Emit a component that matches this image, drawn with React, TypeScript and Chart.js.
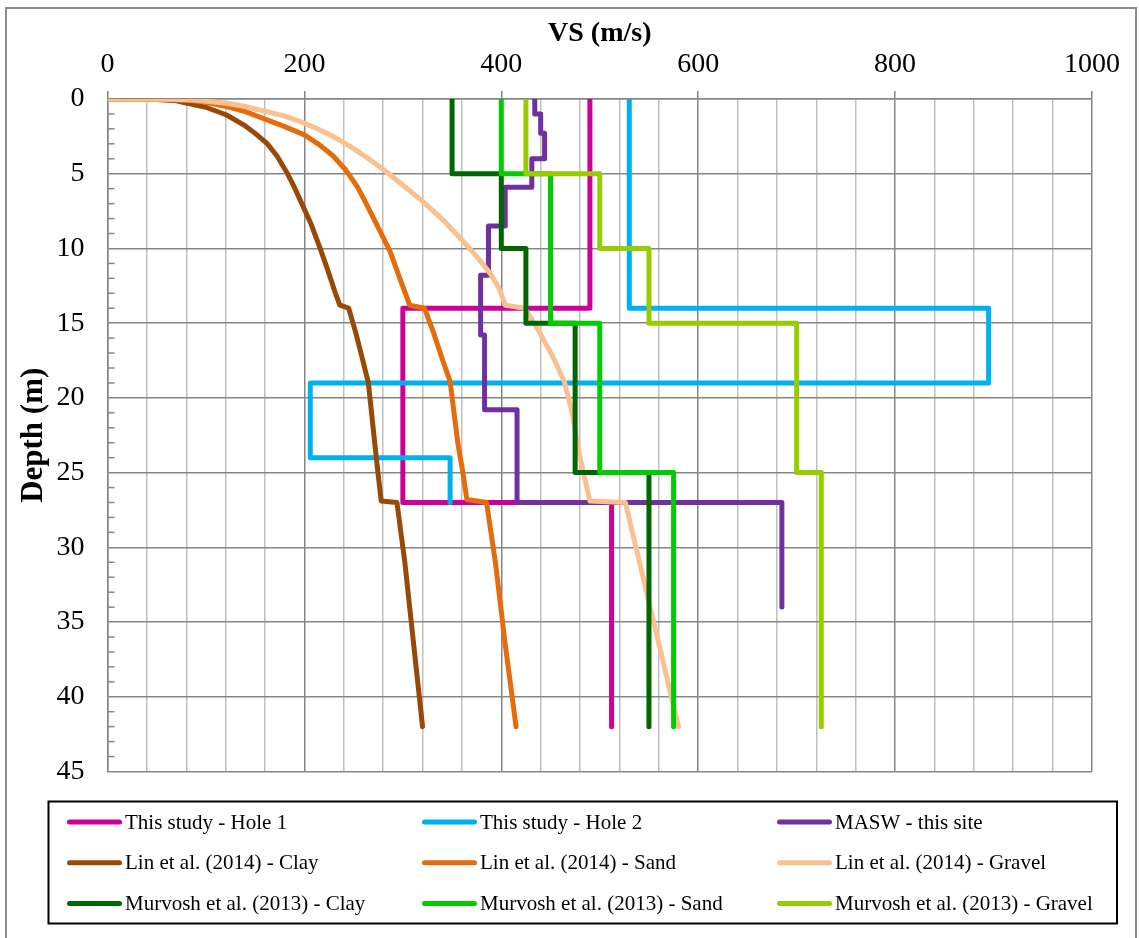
import { useEffect, useRef } from 'react';
import { Chart, registerables } from 'chart.js';

Chart.register(...registerables);

const FONT = '"Liberation Serif", "Times New Roman", serif';
const MAJOR = '#868686';
const MINOR = '#c0c0c0';

// Series labels
const seriesLabels = [
  'This study - Hole 1',
  'This study - Hole 2',
  'MASW - this site',
  'Lin et al. (2014) - Clay',
  'Lin et al. (2014) - Sand',
  'Lin et al. (2014) - Gravel',
  'Murvosh et al. (2013) - Clay',
  'Murvosh et al. (2013) - Sand',
  'Murvosh et al. (2013) - Gravel',
];
const seriesColors = ['#cc0099', '#00b0f0', '#7030a0', '#984807', '#e46c0a', '#fac090', '#006600', '#00cc00', '#99cc00'];

// This study - Hole 1
const hole1Vs = [490, 490, 300, 300, 512, 512];
const hole1Depth = [0, 14, 14, 27, 27, 42];

// This study - Hole 2
const hole2Vs = [530, 530, 895, 895, 206, 206, 348, 348];
const hole2Depth = [0, 14, 14, 19, 19, 24, 24, 27];

// MASW
const maswVs = [434, 434, 440, 440, 444, 444, 431, 431, 404, 404, 387, 387, 379, 379, 383, 383, 416, 416, 685, 685];
const maswDepth = [0, 1, 1, 2.3, 2.3, 4, 4, 5.9, 5.9, 8.5, 8.5, 11.8, 11.8, 15.8, 15.8, 20.8, 20.8, 27, 27, 34];

// Lin et al. (2014) - Clay
const linClayVs = [0, 30, 50, 70, 80, 100, 121, 140, 150, 162, 172, 182, 189, 196, 207, 216, 224, 231, 236, 245, 252, 259, 265, 269, 273, 278, 294, 302, 311, 320];
const linClayDepth = [0, 0.0, 0.03, 0.12, 0.27, 0.55, 1.07, 1.8, 2.3, 2.97, 3.8, 4.9, 5.8, 6.8, 8.4, 10, 11.5, 12.9, 13.8, 14, 15.6, 17.4, 19, 21.5, 24, 26.9, 27, 31, 36.5, 42];

// Lin et al. (2014) - Sand
const linSandVs = [0, 50, 80, 100, 121, 140, 162, 180, 200, 215, 229, 242, 254, 262, 272, 287, 298, 307, 322, 331, 340, 348, 352, 356, 361, 365, 385, 394, 404, 415];
const linSandDepth = [0, 0.01, 0.07, 0.22, 0.5, 0.85, 1.4, 1.85, 2.4, 3.05, 3.8, 4.75, 5.9, 6.9, 8.2, 10.2, 12.2, 13.8, 14, 15.6, 17.4, 18.9, 21, 23.1, 25, 26.8, 27, 31, 36.5, 42];

// Lin et al. (2014) - Gravel
const linGravelVs = [0, 60, 90, 121, 140, 162, 180, 196, 212, 229, 246, 263, 280, 297, 321, 341, 361, 377, 389, 398, 404, 424, 438, 452, 464, 472, 480, 490, 526, 580];
const linGravelDepth = [0, 0.01, 0.08, 0.29, 0.5, 0.85, 1.15, 1.52, 1.95, 2.5, 3.15, 3.9, 4.7, 5.6, 6.9, 8.1, 9.5, 10.7, 11.7, 12.7, 13.8, 14, 15.5, 17.2, 18.9, 21, 24, 26.9, 27, 42];

// Murvosh et al. (2013)
const murClayVs = [350, 350, 400, 400, 425, 425, 475, 475, 550, 550];
const murClayDepth = [0, 5, 5, 10, 10, 15, 15, 25, 25, 42];
const murSandVs = [400, 400, 450, 450, 500, 500, 575, 575];
const murSandDepth = [0, 5, 5, 15, 15, 25, 25, 42];
const murGravelVs = [425, 425, 500, 500, 550, 550, 700, 700, 725, 725];
const murGravelDepth = [0, 5, 5, 10, 10, 15, 15, 25, 25, 42];

const seriesVs = [hole1Vs, hole2Vs, maswVs, linClayVs, linSandVs, linGravelVs, murClayVs, murSandVs, murGravelVs];
const seriesDepth = [hole1Depth, hole2Depth, maswDepth, linClayDepth, linSandDepth, linGravelDepth, murClayDepth, murSandDepth, murGravelDepth];

const xTickLabels = [0, 200, 400, 600, 800, 1000];
const yTickLabels = [0, 5, 10, 15, 20, 25, 30, 35, 40, 45];

const framePlugin = {
  id: 'frame',
  beforeDraw(chart: any) {
    const ctx = chart.ctx;
    ctx.save();
    ctx.fillStyle = '#fff';
    ctx.fillRect(0, 0, chart.width, chart.height);
    ctx.strokeStyle = '#8c8c8c';
    ctx.lineWidth = 2;
    ctx.strokeRect(6, 8, 1130, 960);
    ctx.restore();
  },
  beforeDatasetsDraw(chart: any) {
    const ctx = chart.ctx;
    const y = chart.scales.y;
    const left = chart.chartArea.left;
    ctx.save();
    ctx.strokeStyle = MAJOR;
    ctx.lineWidth = 1.5;
    for (let d = 0; d <= 45; d++) {
      if (d % 5 === 0) continue;
      const py = y.getPixelForValue(d);
      ctx.beginPath();
      ctx.moveTo(left, py);
      ctx.lineTo(left + 7, py);
      ctx.stroke();
    }
    ctx.restore();
  },
  afterDraw(chart: any) {
    const ctx = chart.ctx;
    ctx.save();
    ctx.strokeStyle = '#000';
    ctx.lineWidth = 2;
    ctx.strokeRect(48.5, 801.5, 1068.5, 122);
    ctx.font = '21px ' + FONT;
    ctx.textBaseline = 'middle';
    ctx.textAlign = 'left';
    chart.data.datasets.forEach((ds: any, i: number) => {
      const col = i % 3;
      const row = Math.floor(i / 3);
      const x0 = 67 + col * 355;
      const yy = 822 + row * 40.7;
      ctx.strokeStyle = ds.borderColor;
      ctx.lineWidth = 5;
      ctx.lineCap = 'round';
      ctx.beginPath();
      ctx.moveTo(x0 + 2.5, yy);
      ctx.lineTo(x0 + 52.5, yy);
      ctx.stroke();
      ctx.fillStyle = '#000';
      ctx.fillText(ds.label, x0 + 58, yy + 1);
    });
    ctx.restore();
  },
};

export default function App() {
  const ref = useRef<HTMLCanvasElement>(null);
  useEffect(() => {
    const datasets = seriesLabels.map((label, i) => ({
      label,
      data: seriesVs[i].map((v, k) => ({ x: v, y: seriesDepth[i][k] })),
      showLine: true,
      borderColor: seriesColors[i],
      backgroundColor: seriesColors[i],
      borderWidth: 5,
      pointRadius: 0,
      tension: 0,
      borderCapStyle: 'round',
      borderJoinStyle: 'round',
      order: seriesLabels.length - 1 - i,
    }));
    const chart = new Chart(ref.current as HTMLCanvasElement, {
      type: 'scatter',
      data: { datasets } as any,
      options: {
        responsive: false,
        animation: false,
        events: [],
        layout: { padding: { left: 0, top: 0, right: 47, bottom: 166.5 } },
        plugins: { legend: { display: false }, tooltip: { enabled: false } },
        scales: {
          x: {
            type: 'linear',
            position: 'top',
            min: 0,
            max: 1000,
            ticks: {
              stepSize: 40,
              autoSkip: false,
              maxRotation: 0,
              padding: 10,
              color: '#000',
              font: { family: FONT, size: 28 },
              callback: (v: any) => (xTickLabels.includes(Number(v)) ? String(v) : ''),
            },
            grid: {
              color: (c: any) => (c.tick && c.tick.value % 200 === 0 ? MAJOR : MINOR),
              lineWidth: 1.5,
              tickLength: 8,
              tickWidth: 1.5,
              tickColor: (c: any) => (c.tick && c.tick.value % 200 === 0 ? MAJOR : 'rgba(0,0,0,0)'),
            },
            border: { color: MAJOR, width: 1.5 },
            title: {
              display: true,
              text: 'VS (m/s)',
              color: '#000',
              font: { family: FONT, size: 28, weight: 'bold' },
              padding: { top: 17, bottom: 0 },
            },
            afterFit: (s: any) => {
              s.height = 99;
              s.paddingLeft = 0;
              s.paddingRight = 0;
            },
          },
          y: {
            type: 'linear',
            reverse: true,
            min: 0,
            max: 45,
            ticks: {
              stepSize: 1,
              autoSkip: false,
              padding: 23,
              color: '#000',
              font: { family: FONT, size: 28 },
              callback: (v: any) => (yTickLabels.includes(Number(v)) ? String(v) : ''),
            },
            grid: {
              color: (c: any) => (c.tick && c.tick.value % 5 === 0 ? MAJOR : 'rgba(0,0,0,0)'),
              lineWidth: 1.5,
              drawTicks: false,
            },
            border: { color: MAJOR, width: 1.5 },
            title: {
              display: true,
              text: 'Depth (m)',
              color: '#000',
              font: { family: FONT, size: 31, weight: 'bold' },
              padding: { top: 15, bottom: 0 },
            },
            afterFit: (s: any) => {
              s.width = 107.5;
              s.paddingTop = 0;
              s.paddingBottom = 0;
            },
          },
        },
      } as any,
      plugins: [framePlugin],
    });
    return () => chart.destroy();
  }, []);
  return (
    <div style={{ position: 'fixed', left: 0, top: 0, width: 1139, height: 938, background: '#fff' }}>
      <canvas ref={ref} width={1139} height={938} style={{ display: 'block', width: 1139, height: 938 }} />
    </div>
  );
}
